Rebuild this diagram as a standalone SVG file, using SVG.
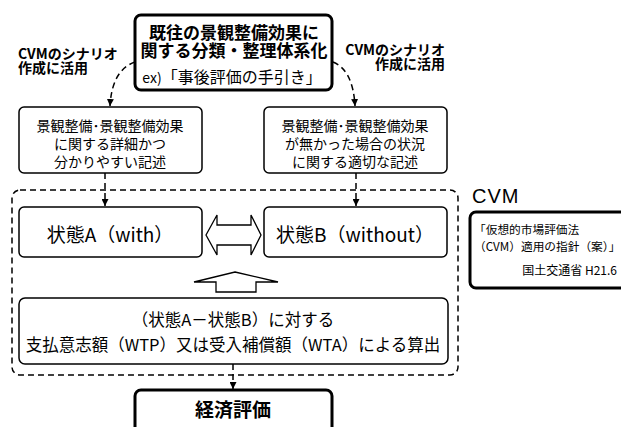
<svg xmlns="http://www.w3.org/2000/svg" width="621" height="427" viewBox="0 0 621 427">
<defs>
<marker id="ah" viewBox="0 0 10 10" refX="10" refY="5" markerWidth="7" markerHeight="7" markerUnits="userSpaceOnUse" orient="auto">
<path d="M0,0 L10,5 L0,10 Z" fill="#000"/>
</marker>
<style>
text{font-family:"Noto Sans CJK JP","Liberation Sans",sans-serif;fill:#000;text-anchor:middle}
.b{font-weight:bold}
.thin{fill:#fff;stroke:#000;stroke-width:1.5}
.thick{fill:#fff;stroke:#000;stroke-width:3}
.dash{fill:none;stroke:#000;stroke-width:1.5;stroke-dasharray:6,4}
.blk{fill:#fff;stroke:#000;stroke-width:1.3}
</style>
</defs>
<rect width="621" height="427" fill="#fff"/>

<g id="container">
<rect x="12" y="190" width="446" height="185" rx="8" class="dash"/>
</g>

<g id="labelLeft">
<text x="18" y="59" class="b" font-size="14" style="text-anchor:start">CVMのシナリオ</text>
<text x="18" y="73" class="b" font-size="14" style="text-anchor:start">作成に活用</text>
</g>
<g id="labelRight">
<text x="445" y="55" class="b" font-size="14" style="text-anchor:end">CVMのシナリオ</text>
<text x="445" y="69" class="b" font-size="14" style="text-anchor:end">作成に活用</text>
</g>

<g id="topBox">
<rect x="135" y="15" width="197" height="75" rx="6" class="thick"/>
<text x="234" y="39" class="b" font-size="17">既往の景観整備効果に</text>
<text x="234" y="57" class="b" font-size="17">関する分類・整理体系化</text>
<text x="232" y="83" font-size="16"><tspan font-size="14">ex)</tspan>「事後評価の手引き」</text>
</g>

<g id="boxLeft">
<rect x="19" y="107" width="183" height="66" rx="5" class="thin"/>
<text x="110" y="131" font-size="14">景観整備･景観整備効果</text>
<text x="110" y="149" font-size="14">に関する詳細かつ</text>
<text x="110" y="167" font-size="14">分かりやすい記述</text>
</g>

<g id="boxRight">
<rect x="264" y="107" width="183" height="66" rx="5" class="thin"/>
<text x="355" y="131" font-size="14">景観整備･景観整備効果</text>
<text x="355" y="149" font-size="14">が無かった場合の状況</text>
<text x="355" y="167" font-size="14">に関する適切な記述</text>
</g>

<g id="stateA">
<rect x="19" y="207" width="183" height="50" rx="5" class="thin"/>
<text x="110" y="242" font-size="19">状態A（with）</text>
</g>

<g id="stateB">
<rect x="264" y="207" width="183" height="50" rx="5" class="thin"/>
<text x="355" y="242" font-size="19">状態B（without）</text>
</g>

<g id="calcBox">
<rect x="19" y="298" width="429" height="66" rx="6" class="thin"/>
<text x="233" y="326" font-size="16.5">（状態A－状態B）に対する</text>
<text x="233" y="351" font-size="16.5">支払意志額（WTP）又は受入補償額（WTA）による算出</text>
</g>

<g id="econBox">
<rect x="135" y="390" width="197" height="60" rx="6" class="thick"/>
<text x="233" y="417" class="b" font-size="19">経済評価</text>
</g>

<g id="cvmLabel">
<text x="472" y="203" font-size="20" letter-spacing="1" style="text-anchor:start;font-family:'Liberation Sans',sans-serif">CVM</text>
</g>
<g id="cvmBox">
<rect x="470" y="212" width="170" height="76" rx="6" class="thick"/>
<text x="474" y="234" font-size="11.7" style="text-anchor:start">「仮想的市場評価法</text>
<text x="474" y="251" font-size="11.7" style="text-anchor:start">（CVM）適用の指針（案）」</text>
<text x="617" y="275" font-size="12" style="text-anchor:end">国土交通省 H21.6</text>
</g>

<g id="connectors">
<path d="M135,62 Q112,70 110,106" class="dash" marker-end="url(#ah)"/>
<path d="M333,62 Q353,70 355,106" class="dash" marker-end="url(#ah)"/>
<path d="M105,173 L105,206" class="dash" marker-end="url(#ah)"/>
<path d="M356,173 L356,206" class="dash" marker-end="url(#ah)"/>
<path d="M233,364 L233,389" class="dash" marker-end="url(#ah)"/>
<path d="M206,235 L217,215 L217,225 L251,225 L251,215 L261,235 L251,255 L251,245 L217,245 L217,255 Z" class="blk"/>
<path d="M235,272 L278,282 L256,282 L256,292 L216,292 L216,282 L194,282 Z" class="blk"/>
</g>
</svg>
